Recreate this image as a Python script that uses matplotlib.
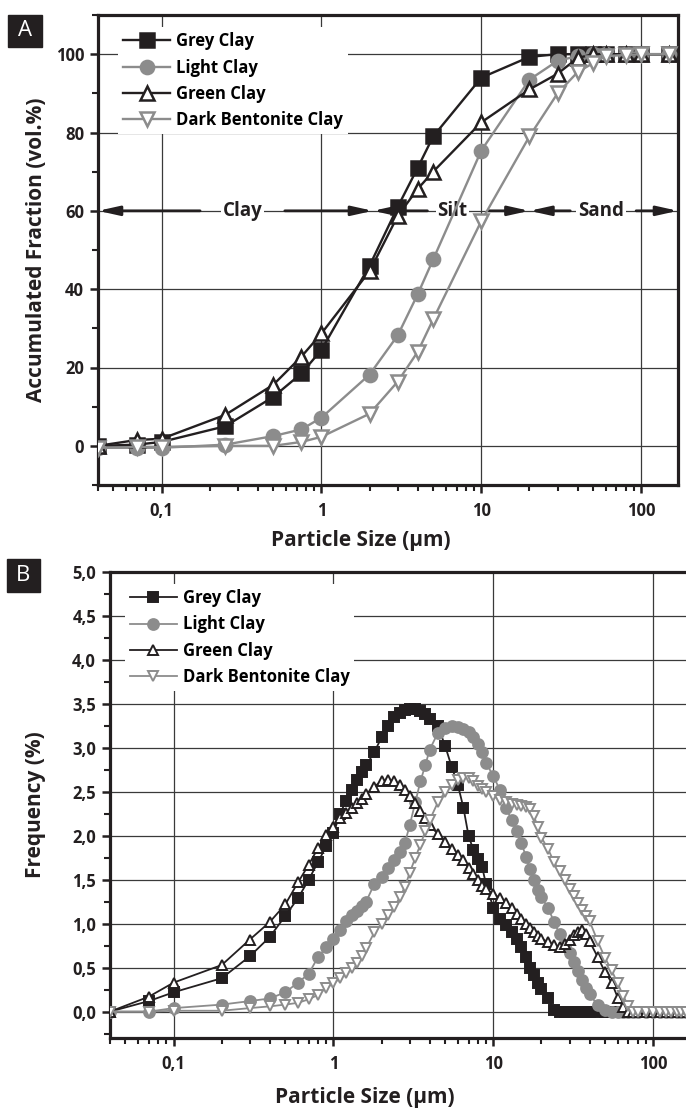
import matplotlib
matplotlib.use("Agg")
import matplotlib.pyplot as plt
from matplotlib.patches import Rectangle
from matplotlib.ticker import FixedLocator, LogLocator, MultipleLocator, FuncFormatter, NullFormatter

plt.rcParams["font.family"] = ["Open Sans", "DejaVu Sans"]
plt.rcParams["font.weight"] = "bold"

BLACK = "#231f20"
GREY = "#8c8c8c"

NAMES = ["Grey Clay", "Light Clay", "Green Clay", "Dark Bentonite Clay"]

# --- panel A: accumulated fraction (vol.%) ---
size_a = [0.04, 0.07, 0.1, 0.25, 0.5, 0.75, 1, 2, 3, 4, 5, 10, 20, 30, 40, 50, 60, 80, 100, 150]
grey_a = [0.0, 0.3, 1.0, 5.0, 12.5, 18.5, 24.5, 46.0, 61.0, 71.0, 79.0, 94.0, 99.3, 100.0,
          100.0, 100.0, 100.0, 100.0, 100.0, 100.0]
light_a = [-0.5, -0.5, -0.5, 0.3, 2.5, 4.2, 7.2, 18.2, 28.2, 38.7, 47.6, 75.4, 93.5, 98.3,
           99.5, 100.0, 100.0, 100.0, 100.0, 100.0]
green_a = [0.0, 1.5, 1.8, 7.9, 15.6, 22.8, 28.7, 44.6, 58.7, 65.6, 70.0, 82.6, 91.0, 95.0,
           99.0, 100.0, 100.0, 100.0, 100.0, 100.0]
dark_a = [-0.5, -0.3, -0.3, 0.0, 0.0, 1.0, 2.3, 8.2, 16.4, 24.0, 32.3, 57.4, 79.0, 90.0,
          95.4, 97.7, 99.5, 99.8, 100.0, 100.0]

# --- panel B: frequency (%) ---
size_b = [0.04, 0.07, 0.1, 0.2, 0.3, 0.4, 0.5, 0.6, 0.7, 0.8, 0.9,
          1.0, 1.1, 1.2, 1.3, 1.4, 1.5, 1.6, 1.8, 2.0, 2.2, 2.4, 2.6, 2.8, 3.0,
          3.25, 3.5, 3.75, 4.0, 4.5, 5.0, 5.5, 6.0, 6.5, 7.0, 7.5, 8.0, 8.5, 9.0,
          10, 11, 12, 13, 14, 15, 16, 17, 18, 19, 20,
          22, 24, 26, 28, 30, 32, 34, 36, 38, 40,
          45, 50, 55, 60, 65, 70, 75, 80,
          90, 100, 110, 120, 130, 140, 150, 160]
grey_b = [0.0, 0.12, 0.22, 0.38, 0.63, 0.85, 1.09, 1.29, 1.50, 1.70, 1.88,
          2.03, 2.25, 2.40, 2.52, 2.63, 2.73, 2.80, 2.95, 3.12, 3.25, 3.35, 3.40, 3.43, 3.44,
          3.44, 3.42, 3.38, 3.33, 3.25, 3.02, 2.78, 2.58, 2.32, 2.00, 1.84, 1.74, 1.65, 1.45,
          1.18, 1.05, 0.98, 0.91, 0.83, 0.74, 0.62, 0.50, 0.42, 0.33, 0.26,
          0.15, 0.02, 0.0, 0.0, 0.0, 0.0, 0.0, 0.0, 0.0, 0.0,
          0.0, 0.0, 0.0, 0.0, 0.0, 0.0, 0.0, 0.0,
          0.0, 0.0, 0.0, 0.0, 0.0, 0.0, 0.0, 0.0]
light_b = [0.0, 0.0, 0.04, 0.08, 0.12, 0.15, 0.22, 0.33, 0.43, 0.62, 0.73,
           0.83, 0.93, 1.03, 1.10, 1.15, 1.20, 1.25, 1.45, 1.53, 1.63, 1.73, 1.81, 1.92, 2.12,
           2.38, 2.62, 2.80, 2.98, 3.17, 3.23, 3.25, 3.24, 3.22, 3.18, 3.12, 3.04, 2.95, 2.83,
           2.68, 2.52, 2.32, 2.18, 2.05, 1.92, 1.76, 1.62, 1.50, 1.38, 1.30,
           1.18, 1.02, 0.88, 0.76, 0.67, 0.57, 0.46, 0.36, 0.27, 0.20,
           0.07, 0.02, 0.0, 0.0, 0.0, 0.0, 0.0, 0.0,
           0.0, 0.0, 0.0, 0.0, 0.0, 0.0, 0.0, 0.0]
green_b = [0.0, 0.17, 0.33, 0.53, 0.82, 1.02, 1.22, 1.47, 1.67, 1.86, 2.01,
           2.10, 2.20, 2.26, 2.32, 2.37, 2.42, 2.47, 2.56, 2.62, 2.64, 2.62, 2.58, 2.52, 2.45,
           2.37, 2.28, 2.20, 2.12, 2.02, 1.93, 1.85, 1.78, 1.72, 1.63, 1.56, 1.50, 1.43, 1.39,
           1.34, 1.29, 1.24, 1.18, 1.11, 1.05, 1.00, 0.95, 0.90, 0.86, 0.83,
           0.79, 0.76, 0.74, 0.77, 0.82, 0.87, 0.91, 0.93, 0.88, 0.80,
           0.62, 0.45, 0.33, 0.16, 0.05, 0.0, 0.0, 0.0,
           0.0, 0.0, 0.0, 0.0, 0.0, 0.0, 0.0, 0.0]
dark_b = [0.0, 0.0, 0.01, 0.01, 0.04, 0.06, 0.08, 0.10, 0.14, 0.19, 0.27,
          0.32, 0.38, 0.44, 0.50, 0.55, 0.63, 0.72, 0.90, 1.00, 1.10, 1.19, 1.30, 1.42, 1.58,
          1.75, 1.90, 2.05, 2.18, 2.38, 2.50, 2.58, 2.63, 2.66, 2.66, 2.62, 2.57, 2.53, 2.50,
          2.45, 2.41, 2.38, 2.36, 2.35, 2.34, 2.33, 2.30, 2.22, 2.10, 1.98,
          1.85, 1.70, 1.60, 1.50, 1.40, 1.32, 1.24, 1.16, 1.09, 1.03,
          0.80, 0.61, 0.47, 0.32, 0.18, 0.06, 0.0, 0.0,
          0.0, 0.0, 0.0, 0.0, 0.0, 0.0, 0.0, 0.0]

# (colour, marker, face) per series
STYLES = [
    (BLACK, "s", BLACK),
    (GREY, "o", GREY),
    (BLACK, "^", "white"),
    (GREY, "v", "white"),
]


def comma(v, _pos=None, digits=0):
    s = f"{v:.{digits}f}" if digits else f"{v:g}"
    return s.replace(".", ",")


def style_axes(ax):
    ax.set_xscale("log")
    ax.set_xlim(0.04, 170)
    ax.xaxis.set_major_locator(FixedLocator([0.1, 1, 10, 100]))
    ax.xaxis.set_minor_locator(LogLocator(base=10, subs=range(2, 10)))
    ax.xaxis.set_minor_formatter(NullFormatter())
    ax.xaxis.set_major_formatter(FuncFormatter(lambda v, p: comma(v)))
    for sp in ax.spines.values():
        sp.set_linewidth(2.3)
        sp.set_color(BLACK)
    ax.tick_params(which="major", direction="out", length=6, width=1.8,
                   labelsize=12, colors=BLACK, pad=4)
    ax.tick_params(axis="x", which="major", pad=6)
    ax.tick_params(which="minor", direction="out", length=4, width=1.5, colors=BLACK)
    ax.grid(True, which="major", color="#3a3a3a", lw=0.9)
    ax.set_axisbelow(True)


def legend(ax, anchor):
    ax.legend(loc="upper left", bbox_to_anchor=anchor, frameon=True, fancybox=False,
              edgecolor="none", facecolor="white", framealpha=1,
              prop={"weight": "bold", "size": 12}, handlelength=2.8,
              handletextpad=0.35, labelspacing=0.5, borderpad=0.3, borderaxespad=0)


fig = plt.figure(figsize=(6.86, 11.10), dpi=100)

# ---------------- panel A ----------------
ax = fig.add_axes([98 / 686, 1 - 485 / 1110, 580 / 686, 470 / 1110])
for ys, name, (col, mk, face) in zip([grey_a, light_a, green_a, dark_a], NAMES, STYLES):
    ax.plot(size_a, ys, color=col, lw=1.7, marker=mk, ms=9.5, mfc=face, mec=col,
            mew=1.8, label=name, zorder=3)
style_axes(ax)
ax.set_ylim(-10, 110)
ax.yaxis.set_major_locator(MultipleLocator(20))
ax.yaxis.set_minor_locator(MultipleLocator(10))
ax.yaxis.set_major_formatter(FuncFormatter(lambda v, p: f"{v:.0f}" if v >= 0 else ""))
ax.set_xlabel("Particle Size (µm)", fontsize=15, fontweight="bold", color=BLACK)
ax.set_ylabel("Accumulated Fraction (vol.%)", fontsize=15, fontweight="bold", color=BLACK)
ax.xaxis.set_label_coords(0.453, -0.095)
ax.yaxis.set_label_coords(-0.088, 0.5)
legend(ax, (0.035, 0.974))

# size classes
arrow = dict(arrowstyle="-|>,head_length=0.9,head_width=0.2", color=BLACK, lw=2,
             mutation_scale=14, shrinkA=0, shrinkB=0)
for tip, tail in [(0.04, 0.174), (2.1, 0.59), (2.1, 4.6), (20, 11), (20, 36), (170, 93)]:
    ax.annotate("", xy=(tip, 60), xytext=(tail, 60), arrowprops=arrow, zorder=2)
for label, xpos in [("Clay", 0.32), ("Silt", 6.6), ("Sand", 56)]:
    ax.text(xpos, 60, label, ha="center", va="center", fontsize=13.5, fontweight="bold",
            color=BLACK, zorder=2,
            bbox=dict(boxstyle="square,pad=0.1", fc="white", ec="none"))

# ---------------- panel B ----------------
bx = fig.add_axes([110 / 686, 1 - 1038 / 1110, 580 / 686, 466 / 1110])
sizes_b = [6.8, 7.8, 7.0, 7.0]
for ys, name, (col, mk, face), ms in zip([grey_b, light_b, green_b, dark_b], NAMES, STYLES, sizes_b):
    bx.plot(size_b, ys, color=col, lw=1.3, marker=mk, ms=ms, mfc=face, mec=col,
            mew=1.4, label=name, zorder=3)
style_axes(bx)
bx.spines["right"].set_visible(False)
bx.set_ylim(-0.3, 5.0)
bx.yaxis.set_major_locator(MultipleLocator(0.5))
bx.yaxis.set_minor_locator(MultipleLocator(0.25))
bx.yaxis.set_major_formatter(FuncFormatter(lambda v, p: comma(v, digits=1) if v >= -0.01 else ""))
bx.set_xlabel("Particle Size (µm)", fontsize=15, fontweight="bold", color=BLACK)
bx.set_ylabel("Frequency (%)", fontsize=15, fontweight="bold", color=BLACK)
bx.xaxis.set_label_coords(0.44, -0.106)
bx.yaxis.set_label_coords(-0.11, 0.5)
legend(bx, (0.026, 0.974))

# panel letters
for letter, (x0, y0, x1, y1) in [("A", (8, 15, 42, 47)), ("B", (7, 559, 40, 592))]:
    fig.patches.append(Rectangle((x0 / 686, 1 - y1 / 1110), (x1 - x0) / 686, (y1 - y0) / 1110,
                                 transform=fig.transFigure, color=BLACK))
    fig.text((x0 + x1) / 2 / 686, 1 - (y0 + y1) / 2 / 1110, letter, color="white",
             fontsize=16, fontweight="normal", ha="center", va="center")

fig.savefig("out.png", dpi=100)
